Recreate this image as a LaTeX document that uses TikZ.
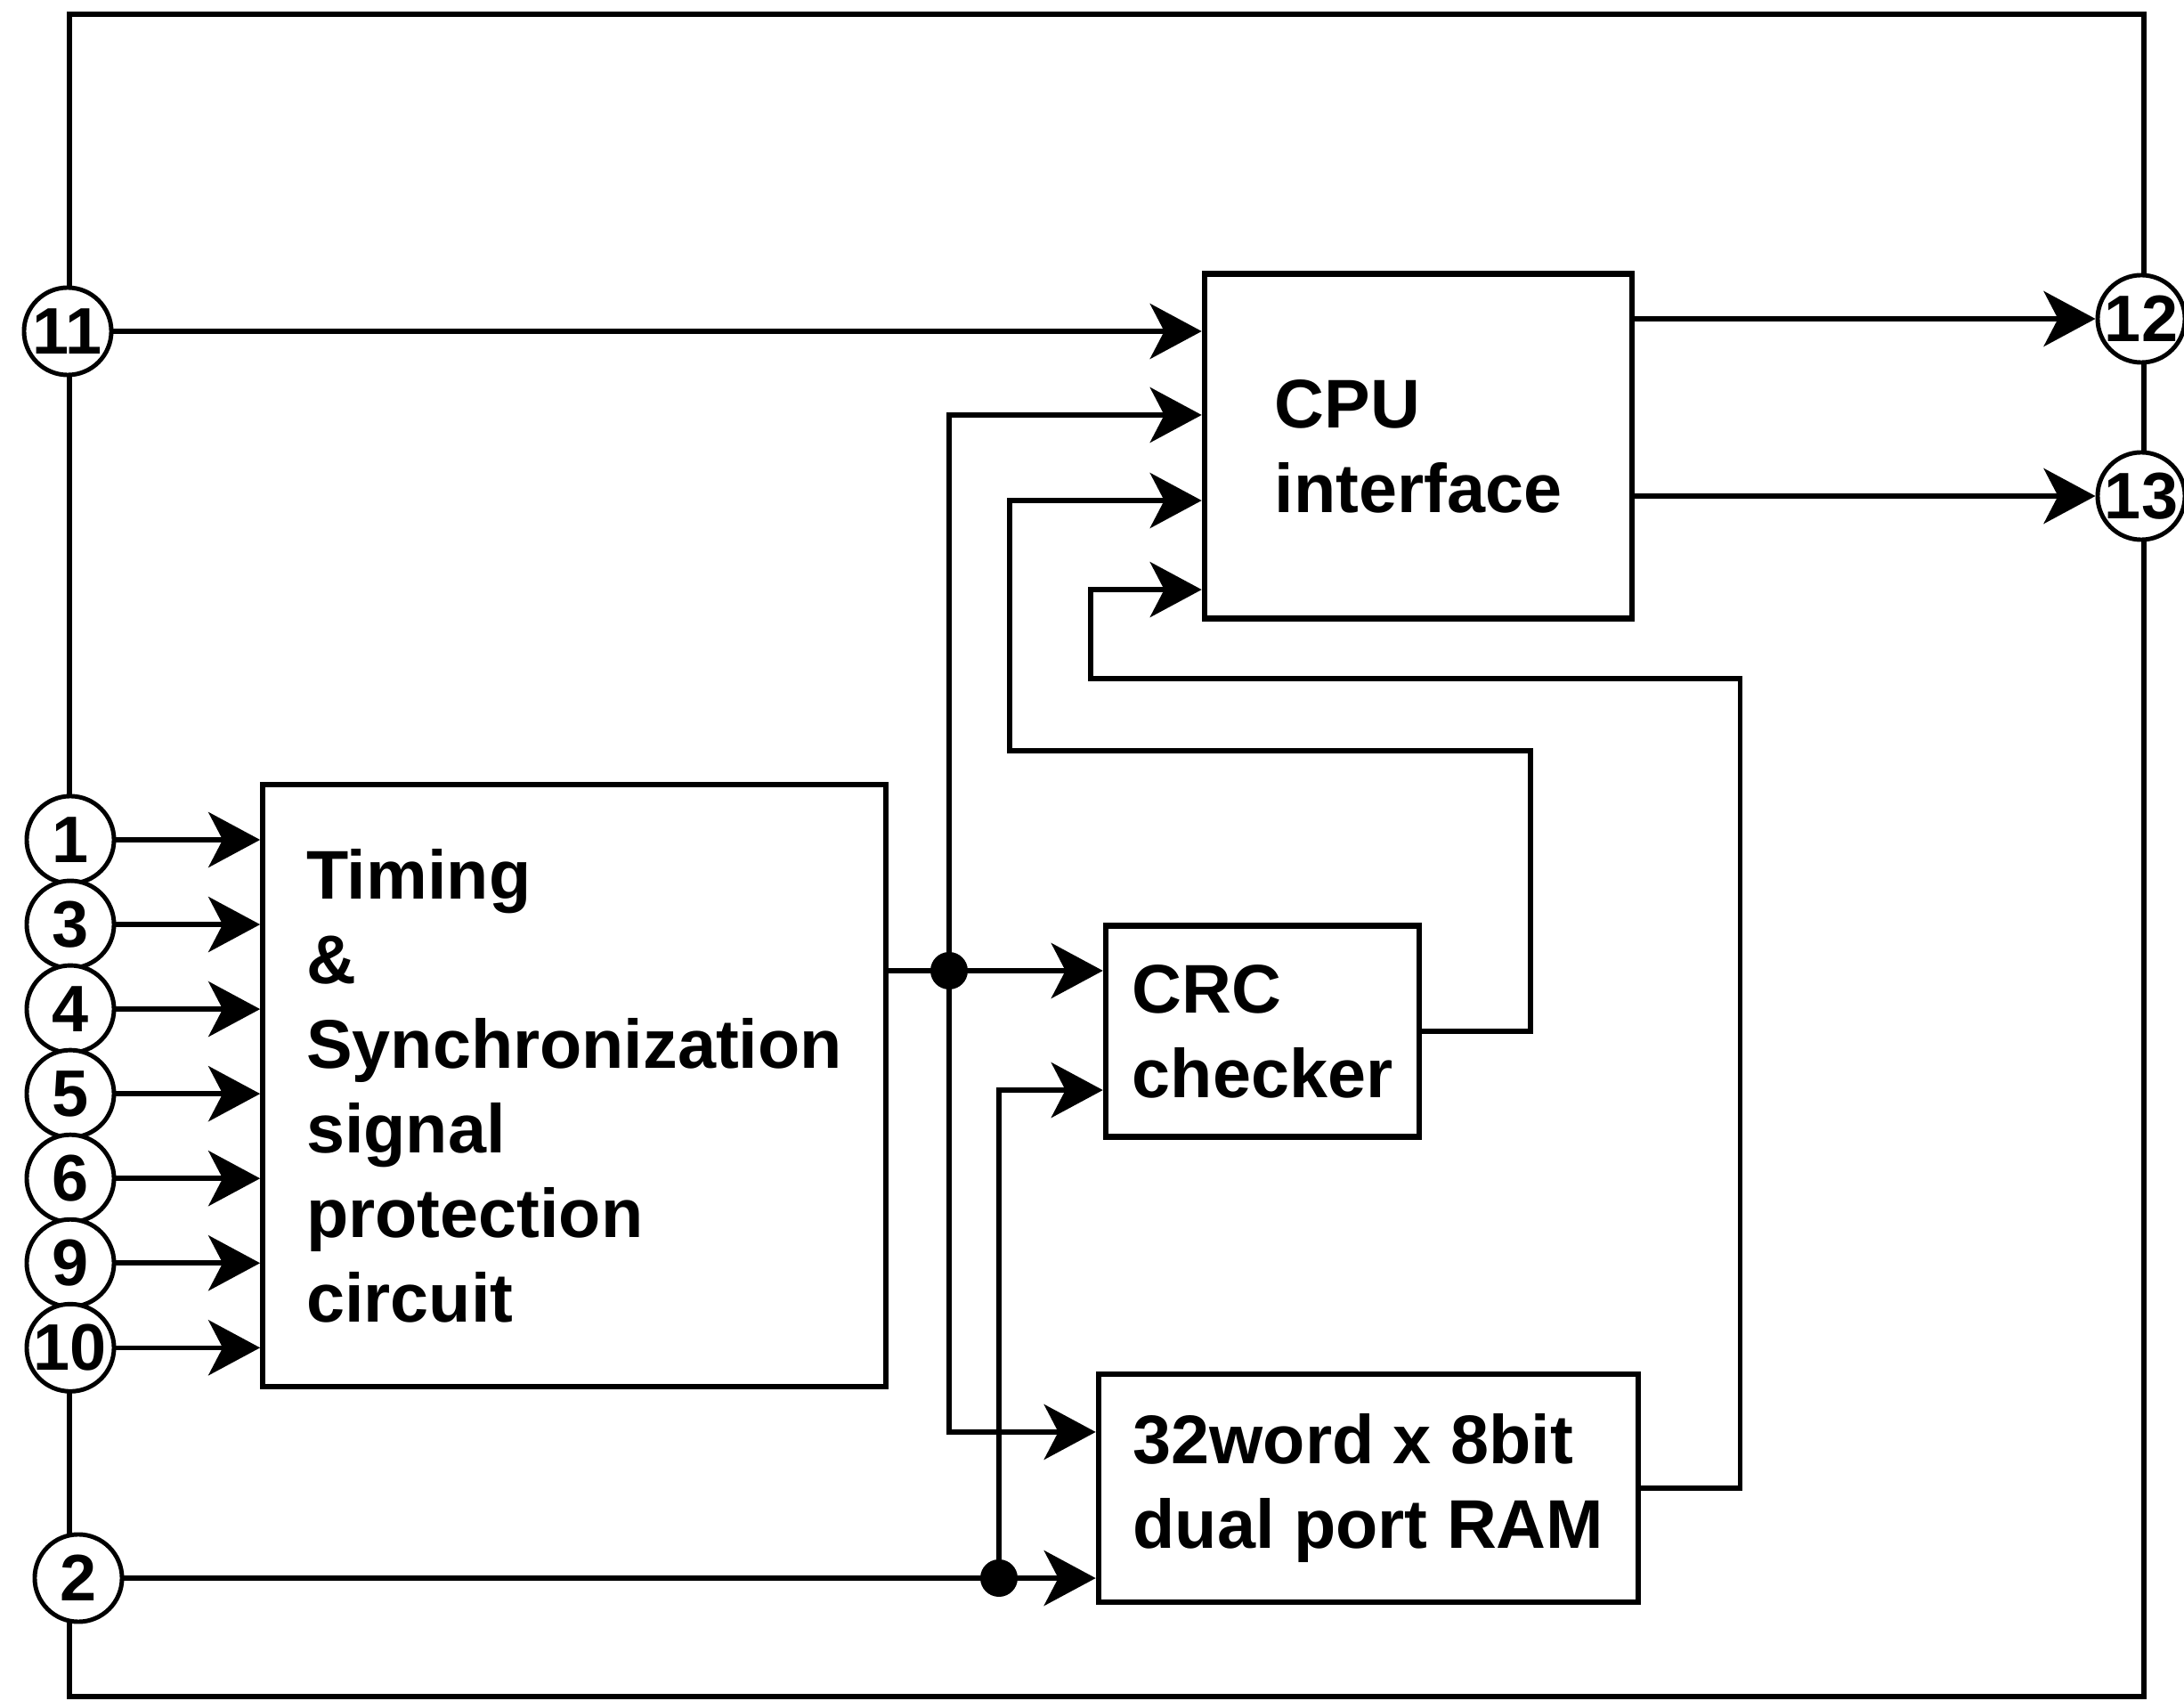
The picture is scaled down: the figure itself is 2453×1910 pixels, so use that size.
\documentclass[tikz,border=0pt]{standalone}
\usepackage{fontspec}
\setmainfont{Liberation Sans}
\usetikzlibrary{arrows.meta,positioning}

\tikzset{
  block/.style={draw, rectangle, line width=1.8pt, align=left, inner sep=0pt,
    font=\fontsize{22}{27}\selectfont\bfseries},
  portc/.style={draw, circle, fill=white, line width=1.4pt, minimum size=0.98cm,
    inner sep=0pt, font=\fontsize{21}{21}\selectfont\bfseries},
  sig/.style={->, line width=1.6pt},
  wire/.style={line width=1.6pt},
  dot/.style={circle, fill=black, minimum size=0.42cm, inner sep=0pt},
}

\begin{document}
\begin{tikzpicture}[x=0.01cm, y=-0.01cm, node distance=0.95cm,
    >={Stealth[length=5.8mm, width=6.2mm, inset=1.6mm]}]
    \useasboundingbox (0,0) rectangle (2453,1910);
    % outer frame
    \draw[wire] (78,16) rectangle (2408,1905);

    % main blocks
    \node[block, minimum width=4.8cm, minimum height=3.87cm] (cpu) at (1593,501) {CPU\\interface};
    \node[block, minimum width=6.99cm, minimum height=6.75cm] (tim) at (645,1219)
        {Timing\\\&\\Synchronization\\signal\\protection\\circuit};
    \node[block, minimum width=3.52cm, minimum height=2.37cm] (crc) at (1418,1158) {CRC\\checker};
    \node[block, minimum width=6.06cm, minimum height=2.56cm] (ram) at (1537,1671)
        {32word x 8bit\\dual port RAM};

    % ports on the frame
    \node[portc] (p11) at (76,372) {11};
    \node[portc] (p1) at (79,943) {1};
    \node[portc, below of=p1] (p3) {3};
    \node[portc, below of=p3] (p4) {4};
    \node[portc, below of=p4] (p5) {5};
    \node[portc, below of=p5] (p6) {6};
    \node[portc, below of=p6] (p9) {9};
    \node[portc, below of=p9] (p10) {10};
    \node[portc] (p2) at (88,1772) {2};
    \node[portc] (p12) at (2405,358) {12};
    \node[portc] (p13) at (2405,557) {13};

    % junction dots
    \node[dot] (j1) at (1066,1090) {};
    \node[dot] (j2) at (1122,1772) {};

    % input points on the blocks
    \coordinate (cin1) at ([yshift=0.35cm]cpu.west);
    \coordinate (cin2) at ([yshift=-0.61cm]cpu.west);
    \coordinate (cin3) at ([yshift=-1.61cm]cpu.west);
    \coordinate (crcin) at ([yshift=-0.66cm]crc.west);
    \coordinate (rin1) at ([yshift=0.63cm]ram.west);
    \coordinate (rin2) at ([yshift=-1.01cm]ram.west);

    % inputs to timing circuit
    \foreach \p in {p1,p3,p4,p5,p6,p9,p10}
        \draw[sig] (\p) -- (\p -| tim.west);

    % cpu connections
    \draw[sig] (p11) -- (p11 -| cpu.west);
    \draw[sig] (cpu.east |- p12) -- (p12);
    \draw[sig] (cpu.east |- p13) -- (p13);

    % timing output
    \draw[sig] (tim.east |- j1) -- (j1 -| crc.west);
    \draw[sig] (j1.center) |- (cin1);
    \draw[sig] (j1.center) |- (rin1);

    % feedback to cpu
    \draw[sig] (crc.east) -- ++(122,0) |- (1134,843) |- (cin2);
    \draw[sig] (ram.east) -- ++(111,0) |- (1225,762) |- (cin3);

    % port 2
    \draw[wire] (p2) -- (j2.center);
    \draw[sig] (j2.center) -- (rin2);
    \draw[sig] (j2.center) |- (crcin);
\end{tikzpicture}
\end{document}
